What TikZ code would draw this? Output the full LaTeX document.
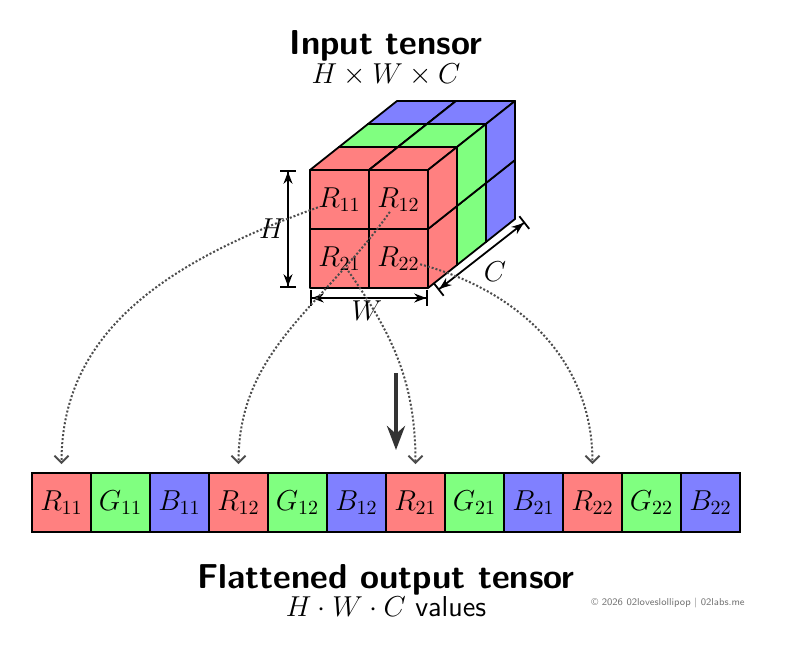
\documentclass[tikz,border=0pt]{standalone}
\usetikzlibrary{arrows.meta}
\definecolor{cr}{HTML}{FF8080}
\definecolor{cg}{HTML}{80FF80}
\definecolor{cb}{HTML}{8080FF}
\begin{document}
\begin{tikzpicture}[x=0.5pt,y=-0.5pt,
  face/.style={draw=black,line width=0.9pt,line join=round},
  lbl/.style={font=\Large,inner sep=0pt},
  cell/.style={draw=black,line width=0.9pt,minimum width=29.5pt,minimum height=29.5pt,inner sep=0pt,font=\Large},
  dots/.style={densely dotted,line width=1pt,draw=black!70,-{Straight Barb[length=3.5pt,width=7pt]}},
  dim/.style={line width=0.9pt,{Bar[width=8pt]Stealth[length=6pt]}-{Stealth[length=6pt]Bar[width=8pt]}}]
\useasboundingbox (0,0) rectangle (787,652);
% cube
\foreach \d/\col in {2/cb,1/cg,0/cr}{
  \foreach \r in {1,0}{
    \foreach \c in {0,1}{
      \pgfmathsetmacro\X{310+59*\c+29*\d}
      \pgfmathsetmacro\Y{170+59*\r-23*\d}
      \fill[\col,face] (\X,\Y) -- ++(29,-23) -- ++(59,0) -- ++(-29,23) -- cycle;
      \fill[\col,face] (\X+59,\Y) -- ++(29,-23) -- ++(0,59) -- ++(-29,23) -- cycle;
      \fill[\col,face] (\X,\Y) rectangle ++(59,59);
    }
  }
}
\node[lbl] (r11) at (339.5,199.5) {$R_{11}$};
\node[lbl] (r12) at (398.5,199.5) {$R_{12}$};
\node[lbl] (r21) at (339.5,258.5) {$R_{21}$};
\node[lbl] (r22) at (398.5,258.5) {$R_{22}$};
% dimensions
\coordinate (h1) at (288,170); \coordinate (h2) at (288,288);
\draw[dim] (h1) -- (h2);
\node[lbl] (hl) at (272,229) {$H$};
\coordinate (w1) at (310,298); \coordinate (w2) at (428,298);
\draw[dim] (w1) -- (w2);
\node[lbl] (wl) at (367,311) {$W$};
\coordinate (c1) at (438,290); \coordinate (c2) at (525,222);
\draw[dim] (c1) -- (c2);
\node[lbl] (cl) at (495,272) {$C$};
% titles
\node[font=\sffamily\bfseries\LARGE] (t1) at (386,46) {Input tensor};
\node[font=\Large] (t2) at (386,75) {$H\times W\times C$};
\node[font=\sffamily\bfseries\LARGE] (t3) at (386,580) {Flattened output tensor};
\node[font=\Large] (t4) at (386,607) {$H\cdot W\cdot C$ \textsf{values}};
\node[font=\sffamily\tiny,text=black!55] (cp) at (668,603) {\copyright{} 2026 02loveslollipop | 02labs.me};
% strip
\foreach \i/\col/\t in {1/cr/R_{11},2/cg/G_{11},3/cb/B_{11},4/cr/R_{12},5/cg/G_{12},6/cb/B_{12},7/cr/R_{21},8/cg/G_{21},9/cb/B_{21},10/cr/R_{22},11/cg/G_{22},12/cb/B_{22}}{
  \node[cell,fill=\col] (s\i) at ({32+59*(\i-1)+29.5},502.5) {$\t$};
}
% arrows
\draw[dots] (r11) to[out=200,in=90] ([yshift=4pt]s1.north);
\draw[dots] (r12) to[out=235,in=90] ([yshift=4pt]s4.north);
\draw[dots] (r21) to[out=-55,in=90] ([yshift=4pt]s7.north);
\draw[dots] (r22) to[out=-15,in=90] ([yshift=4pt]s10.north);
\coordinate (a1) at (396,373); \coordinate (a2) at (396,450);
\draw[line width=2.2pt,draw=black!80,-{Stealth[length=12pt,width=9pt]}] (a1) -- (a2);
\end{tikzpicture}
\end{document}
